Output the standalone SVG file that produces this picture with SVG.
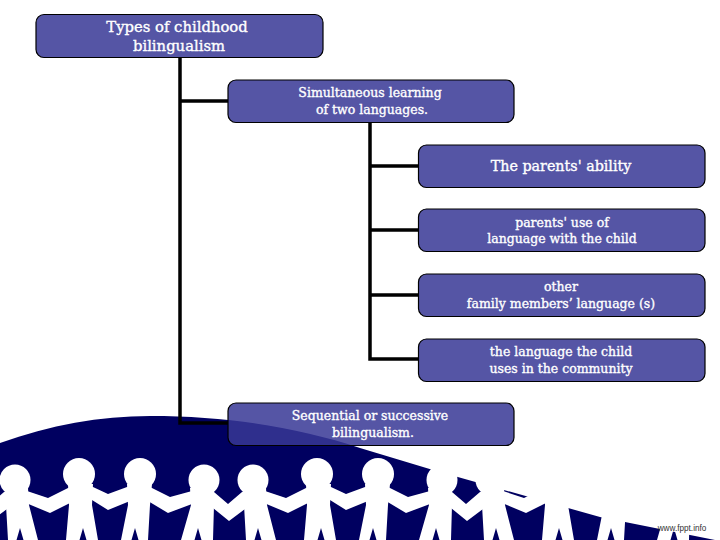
<svg xmlns="http://www.w3.org/2000/svg" xmlns:xlink="http://www.w3.org/1999/xlink" width="720" height="540" viewBox="0 0 720 540">
<style>
.box{fill:#373795;fill-opacity:.85;stroke:#000;stroke-width:1.2}
.t{font-family:"DejaVu Serif","Liberation Serif",serif;fill:#fff;stroke:#fff;stroke-width:.35;text-anchor:middle;font-size:12.5px}
.b{font-size:14.8px}
.c{font-size:14.3px}
.l{fill:none;stroke:#000;stroke-width:3.5}
.w{fill:#fff}
</style>
<defs>
<g id="tile" class="w">
<circle cx="15" cy="480" r="15.500"/><circle cx="79" cy="474" r="16"/><circle cx="140" cy="474" r="16"/><circle cx="204" cy="480" r="15.500"/>
<polygon points="6,488 28,488 29,505 38,540 23.500,540 20,528 16.500,540 8,540 6,505"/>
<polygon points="68,484 93,484 92,505 98,540 86.500,540 83,528 79.500,540 66,540 69,505"/>
<polygon points="127,484 152,484 150,505 148,540 138.500,540 135,528 131.500,540 121,540 128,505"/>
<polygon points="190,488 214,488 214,505 213,540 201.500,540 198,528 194.500,540 181,540 191,505"/>
<polygon points="15,486 27,491 48,498 70,487 79,484 70,503 50,513 26,503"/>
<polygon points="79,484 93,487 108,494 127,487 140,484 130,501 108,510 92,500"/>
<polygon points="140,484 150,487 170,497 192,491 204,488 192,504 168,513 148,501"/>
<polygon points="204,488 214,492 228,504 242,492 253,488 245,509 229,521 213,508"/>
</g>
</defs>
<g id="background">
<path fill="#000060" d="M0 443C50 425 100 416 150 416C230 416 300 428 360 448L433 470L600 517L720 541L720 540L0 540Z"/>
<use xlink:href="#tile" x="-238"/><use xlink:href="#tile"/><use xlink:href="#tile" x="238"/><use xlink:href="#tile" x="476"/>
<text x="682" y="531" font-family="Liberation Sans,sans-serif" font-size="8.200" fill="#333" text-anchor="middle">www.fppt.info</text>
</g>
<g id="connectors">
<path class="l" d="M180 57V423H228M180 101H228"/>
<path class="l" d="M370 122V359H418M370 166H418M370 230H418M370 295H418"/>
</g>
<g id="n1"><rect class="box" x="36" y="14.500" width="287" height="43" rx="8"/><text class="t b" x="177" y="32">Types of childhood</text><text class="t b" x="179" y="51">bilingualism</text></g>
<g id="n2"><rect class="box" x="228" y="80" width="286" height="42.500" rx="8"/><text class="t" x="370" y="97">Simultaneous learning</text><text class="t" x="372" y="114">of two languages.</text></g>
<g id="n3"><rect class="box" x="418.500" y="145" width="286.500" height="42.500" rx="8"/><text class="t c" x="561" y="171">The parents' ability</text></g>
<g id="n4"><rect class="box" x="418.500" y="209" width="286.500" height="42.500" rx="8"/><text class="t" x="562" y="227">parents' use of</text><text class="t" x="562" y="243">language with the child</text></g>
<g id="n5"><rect class="box" x="418.500" y="274" width="286.500" height="42.500" rx="8"/><text class="t" x="561" y="291">other</text><text class="t" x="561" y="308">family members’ language (s)</text></g>
<g id="n6"><rect class="box" x="418.500" y="339" width="286.500" height="42.500" rx="8"/><text class="t" x="561" y="356">the language the child</text><text class="t" x="561" y="373">uses in the community</text></g>
<g id="n7"><rect class="box" x="228" y="403" width="286" height="42.500" rx="8"/><text class="t" x="370" y="420">Sequential or successive</text><text class="t" x="373" y="437">bilingualism.</text></g>
</svg>
